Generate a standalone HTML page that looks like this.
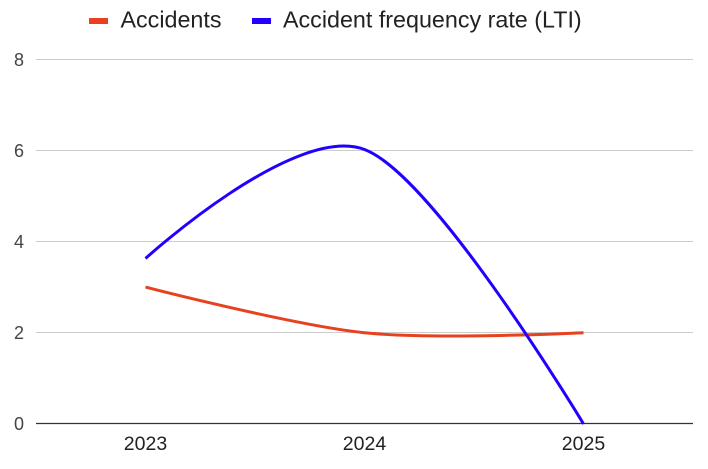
<!DOCTYPE html>
<html><head><meta charset="utf-8"><style>
html,body{margin:0;padding:0;background:#fff;}
svg{display:block;font-family:"Liberation Sans",Arial,sans-serif;}
</style></head><body>
<svg width="708" height="469" viewBox="0 0 708 469" xmlns="http://www.w3.org/2000/svg">
<rect width="708" height="469" fill="#fff"/>
<!-- legend -->
<rect x="89" y="18" width="19" height="6" fill="#e8411f"/>
<text x="120.5" y="27.5" font-size="23.3" fill="#222">Accidents</text>
<rect x="252" y="18" width="19" height="6" fill="#2100ff"/>
<text x="283" y="27.5" font-size="23.3" fill="#222">Accident frequency rate (LTI)</text>
<!-- grid -->
<g stroke="#cccccc" stroke-width="1">
<line x1="36" y1="59.5" x2="693" y2="59.5"/>
<line x1="36" y1="150.5" x2="693" y2="150.5"/>
<line x1="36" y1="241.5" x2="693" y2="241.5"/>
<line x1="36" y1="332.5" x2="693" y2="332.5"/>
</g>
<line x1="36" y1="423.5" x2="693" y2="423.5" stroke="#333" stroke-width="1.3"/>
<!-- y labels -->
<g font-size="18" fill="#444" text-anchor="end">
<text x="24" y="66">8</text>
<text x="24" y="157">6</text>
<text x="24" y="248">4</text>
<text x="24" y="339">2</text>
<text x="24" y="430">0</text>
</g>
<!-- x labels -->
<g font-size="19.5" fill="#222" text-anchor="middle">
<text x="145.5" y="450">2023</text>
<text x="364.5" y="450">2024</text>
<text x="583.5" y="450">2025</text>
</g>
<!-- series -->
<path d="M145.5,287.1 C145.5,287.1 294.4,325.5 364.5,332.75 C434.6,340 583.5,332.75 583.5,332.75" fill="none" stroke="#e8411f" stroke-width="3" stroke-linecap="butt"/>
<path d="M145.5,258.5 C145.5,258.5 294.4,123 364.5,149.5 C434.6,176 583.5,424 583.5,424" fill="none" stroke="#2100ff" stroke-width="3" stroke-linecap="butt"/>
</svg>
</body></html>
